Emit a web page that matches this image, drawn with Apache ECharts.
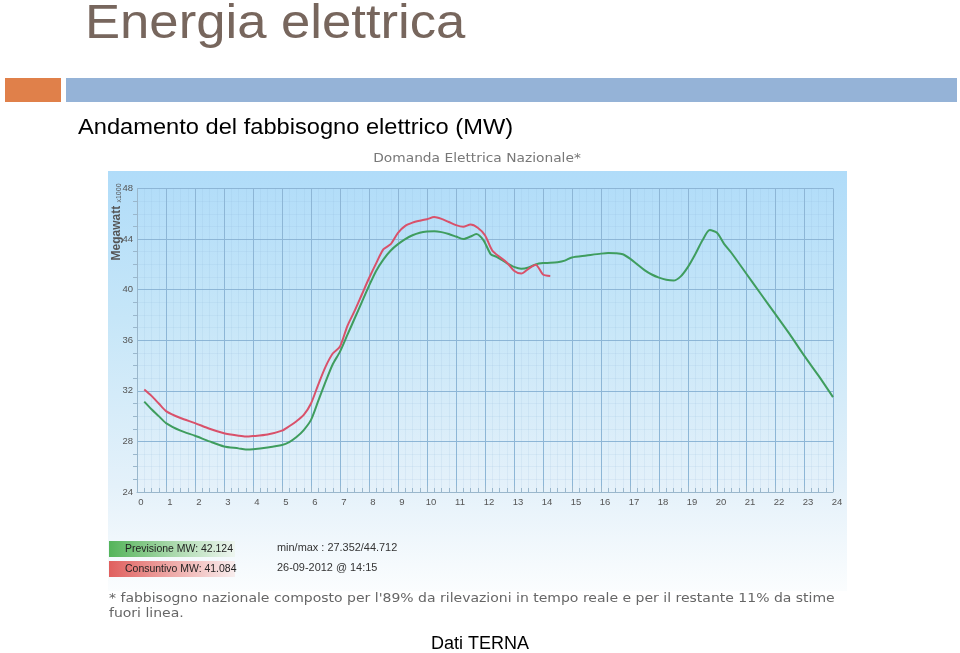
<!DOCTYPE html>
<html>
<head>
<meta charset="utf-8">
<script src="https://cdn.jsdelivr.net/npm/echarts@6/dist/echarts.min.js"></script>
<style>
html,body{margin:0;padding:0;background:#fff;}
#main{width:960px;height:653px;}
</style>
</head>
<body>
<div id="main"></div>
<script>
// ---- data ----
const hourTicks = [0,1,2,3,4,5,6,7,8,9,10,11,12,13,14,15,16,17,18,19,20,21,22,23,24];
const mwTicks = [24,28,32,36,40,44,48];

const prevHours = [0.25,0.5,0.75,1,1.5,2,2.5,3,3.5,3.75,4,4.5,5,5.25,5.5,5.75,6,6.25,6.5,6.75,7,7.25,7.5,7.75,8,8.25,8.5,8.75,9,9.25,9.5,9.75,10,10.25,10.5,10.75,11,11.25,11.5,11.7,11.95,12.2,12.4,12.75,13,13.25,13.5,13.75,14,14.25,14.5,14.75,15,15.5,16,16.25,16.5,16.75,17,17.25,17.5,17.75,18,18.25,18.5,18.75,19,19.25,19.5,19.75,20,20.25,20.5,21,21.5,22,22.5,23,23.5,24];
const prevValues = [31.15,30.55,30.0,29.45,28.85,28.45,28.0,27.6,27.45,27.36,27.38,27.52,27.72,27.95,28.35,28.9,29.7,31.2,32.7,34.1,35.1,36.4,37.7,39.0,40.3,41.5,42.4,43.1,43.6,44.0,44.3,44.5,44.6,44.62,44.55,44.4,44.2,44.0,44.2,44.4,43.9,42.8,42.6,42.1,41.8,41.65,41.75,42.0,42.1,42.12,42.17,42.3,42.55,42.7,42.85,42.9,42.88,42.8,42.45,42.0,41.55,41.2,40.95,40.78,40.72,41.05,41.8,42.8,43.9,44.71,44.5,43.6,42.9,41.3,39.7,38.1,36.5,34.8,33.2,31.5];

const consHours = [0.25,0.5,0.75,1,1.5,2,2.5,3,3.5,3.75,4,4.5,5,5.25,5.5,5.75,6,6.25,6.5,6.75,7,7.25,7.5,7.75,8,8.25,8.5,8.75,9,9.25,9.5,9.75,10,10.25,10.5,10.75,11,11.25,11.5,11.75,12,12.25,12.5,12.75,13,13.25,13.5,13.75,14,14.25];
const consValues = [32.1,31.6,31.0,30.4,29.85,29.45,29.0,28.65,28.45,28.38,28.42,28.55,28.85,29.2,29.6,30.1,31.0,32.5,33.9,34.95,35.5,37.1,38.3,39.6,40.9,42.1,43.2,43.6,44.5,45.05,45.3,45.45,45.57,45.75,45.6,45.35,45.1,44.97,45.15,44.9,44.3,43.1,42.6,42.15,41.5,41.27,41.65,41.98,41.2,41.08];

const prevLabel = 'Previsione MW: 42.124';
const consLabel = 'Consuntivo MW: 41.084';
const minMaxLabel = 'min/max : 27.352/44.712';
const stampLabel = '26-09-2012 @ 14:15';

function pairs(xs, ys){ return xs.map((x,i)=>[x, ys[i]]); }

const chart = echarts.init(document.getElementById('main'), null, {renderer:'canvas'});

const gridMajor = '#8db6d6';
const gridMinor = 'rgba(130,175,210,0.12)';

function txt(x, y, text, fontSize, fill, family, sx, weight, align){
  return {type:'text', x:x, y:y, scaleX: sx||1, z:10,
    style:{text:text, fontSize:fontSize, fill:fill, fontFamily:family||'Liberation Sans, Arial, sans-serif',
      fontWeight: weight||'normal',
      textAlign: align||'left', align: align||'left', textVerticalAlign:'middle', verticalAlign:'middle'}};
}

const option = {
  backgroundColor:'#ffffff',
  animation:false,
  graphic:[
    // chart panel background
    {type:'rect', z:-10, shape:{x:108, y:171, width:739, height:420},
      style:{fill:new echarts.graphic.LinearGradient(0,0,0,1,[
        {offset:0, color:'#b0dcf9'},
        {offset:0.35, color:'#c6e6f8'},
        {offset:0.75, color:'#e4f1fa'},
        {offset:1, color:'#fbfdfe'}])}},
    // header bars
    {type:'rect', shape:{x:5, y:78, width:56, height:24}, style:{fill:'#e0804a'}},
    {type:'rect', shape:{x:66, y:78, width:891, height:24}, style:{fill:'#95b3d7'}},
    txt(85, 25, 'Energia elettrica', 47.5, '#77665d', null, 1.108),
    txt(78, 128, 'Andamento del fabbisogno elettrico (MW)', 21.5, '#000000', null, 1.1),
    txt(477, 159, 'Domanda Elettrica Nazionale*', 13, '#777777', 'DejaVu Sans, sans-serif', 1.06, 'normal', 'center'),
    // y axis name rotated
    {type:'text', x:117, y:222, rotation:Math.PI/2, z:10,
      style:{text:'{a|Megawatt} {b|x1000}', textAlign:'center', align:'center', textVerticalAlign:'middle', verticalAlign:'middle',
        rich:{a:{fontSize:12, fontWeight:'bold', fill:'#555', fontFamily:'Liberation Sans, Arial, sans-serif'},
              b:{fontSize:7, fill:'#555', fontFamily:'Liberation Sans, Arial, sans-serif', verticalAlign:'bottom'}}}},
    // legend boxes
    {type:'rect', shape:{x:109, y:541, width:126, height:16},
      style:{fill:new echarts.graphic.LinearGradient(0,0,1,0,[
        {offset:0, color:'#55b45a'},{offset:0.5, color:'#a9d8ab'},{offset:1, color:'#eef6f0'}])}},
    {type:'rect', shape:{x:109, y:561, width:126, height:16},
      style:{fill:new echarts.graphic.LinearGradient(0,0,1,0,[
        {offset:0, color:'#e0605e'},{offset:0.5, color:'#eeaaa8'},{offset:1, color:'#f8eded'}])}},
    txt(125, 549, prevLabel, 11.5, '#222222', null, 0.91),
    txt(125, 569, consLabel, 11.5, '#222222', null, 0.91),
    txt(277, 548, minMaxLabel, 11.5, '#333333', null, 0.95),
    txt(277, 567.5, stampLabel, 11.5, '#333333', null, 0.95),
    txt(109, 599, '* fabbisogno nazionale composto per l\'89% da rilevazioni in tempo reale e per il restante 11% da stime', 12.5, '#666666', 'DejaVu Sans, sans-serif', 1.12),
    txt(109, 613.5, 'fuori linea.', 12.5, '#666666', 'DejaVu Sans, sans-serif', 1.12),
    txt(480, 644, 'Dati TERNA', 18, '#000000', null, 1, 'normal', 'center')
  ],
  grid:{left:137, top:188.5, width:696, height:303.5, containLabel:false},
  xAxis:{
    type:'value', min:hourTicks[0], max:hourTicks[hourTicks.length-1], interval:1,
    axisLine:{show:true, lineStyle:{color:'#9ab7cc', width:1}},
    axisTick:{show:true, inside:true, length:6, lineStyle:{color:'#9ab7cc'}},
    minorTick:{show:true, splitNumber:4, length:4, lineStyle:{color:'#9ab7cc'}},
    splitLine:{show:true, lineStyle:{color:gridMajor, width:1}},
    minorSplitLine:{show:true, lineStyle:{color:gridMinor, width:1}},
    axisLabel:{color:'#555', fontSize:9.5, margin:5, padding:[0,0,0,8], fontFamily:'Liberation Sans, Arial, sans-serif'}
  },
  yAxis:{
    type:'value', min:mwTicks[0], max:mwTicks[mwTicks.length-1], interval:4,
    axisLine:{show:true, lineStyle:{color:'#9ab7cc', width:1}},
    axisTick:{show:false},
    minorTick:{show:true, splitNumber:4, length:4, lineStyle:{color:'#9ab7cc'}},
    splitLine:{show:true, lineStyle:{color:gridMajor, width:1}},
    minorSplitLine:{show:true, lineStyle:{color:gridMinor, width:1}},
    axisLabel:{color:'#555', fontSize:9.5, margin:4, fontFamily:'Liberation Sans, Arial, sans-serif'}
  },
  series:[
    {name:'Previsione', type:'line', data:pairs(prevHours, prevValues), showSymbol:false, smooth:0.25,
      lineStyle:{color:'#3f9d5e', width:2}, itemStyle:{color:'#3f9d5e'}, z:3},
    {name:'Consuntivo', type:'line', data:pairs(consHours, consValues), showSymbol:false, smooth:0.25,
      lineStyle:{color:'#d9516a', width:2}, itemStyle:{color:'#d9516a'}, z:4}
  ]
};
chart.setOption(option);
</script>
</body>
</html>
